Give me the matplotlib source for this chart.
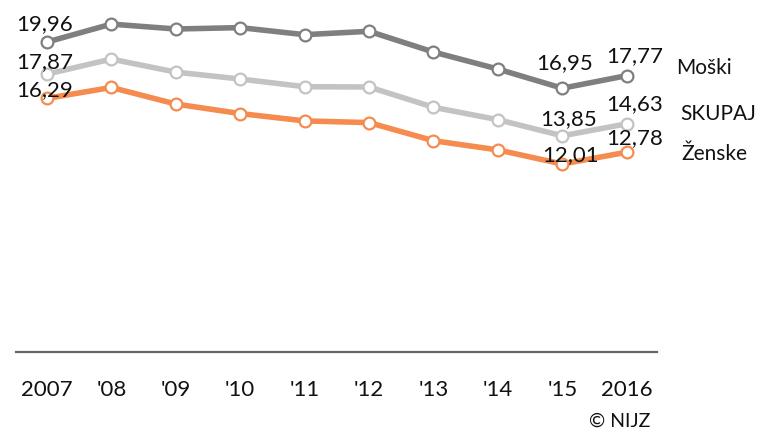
import matplotlib.pyplot as plt

plt.rcParams['font.family'] = ['Lato', 'DejaVu Sans']

# Podatki
leta = ['2007', "'08", "'09", "'10", "'11", "'12", "'13", "'14", "'15", '2016']
moski = [19.96, 21.13, 20.81, 20.90, 20.44, 20.66, 19.31, 18.20, 16.95, 17.77]
skupaj = [17.87, 18.85, 18.00, 17.55, 17.05, 17.03, 15.71, 14.90, 13.85, 14.63]
zenske = [16.29, 17.00, 15.92, 15.30, 14.82, 14.71, 13.53, 12.93, 12.01, 12.78]

serije = [
    ('Moški', moski, '#7f7f7f'),
    ('SKUPAJ', skupaj, '#c3c3c3'),
    ('Ženske', zenske, '#f58b4f'),
]

# odmiki oznak v pikslih (dx, dy) za indeks 0, 8, 9
odmiki = {
    'Moški': {0: (-2, 12), 8: (2, 19), 9: (8, 14)},
    'SKUPAJ': {0: (-2, 6), 8: (6, 11), 9: (8, 14)},
    'Ženske': {0: (-2, 2), 8: (8, 3), 9: (8, 8)},
}
odmiki_imen = {'Moški': (49, 2), 'SKUPAJ': (54, 4), 'Ženske': (55, -8)}

fig = plt.figure(figsize=(7.67, 4.33), dpi=100)
ax = fig.add_axes([16 / 767, 81 / 433, 641 / 767, 352 / 433])

x = list(range(len(leta)))
for ime, vrednosti, barva in serije:
    ax.plot(x, vrednosti, color=barva, lw=4, marker='o', ms=8.5,
            mfc='white', mec=barva, mew=1.6, zorder=3, clip_on=False)
    for i, (dx, dy) in odmiki[ime].items():
        ax.annotate(f'{vrednosti[i]:.2f}'.replace('.', ','), (x[i], vrednosti[i]),
                    xytext=(dx, dy), textcoords='offset pixels',
                    ha='center', va='baseline', fontsize=16, color='#111111', zorder=4)
    dx, dy = odmiki_imen[ime]
    ax.annotate(ime, (x[-1], vrednosti[-1]), xytext=(dx, dy), textcoords='offset pixels',
                ha='left', va='baseline', fontsize=15, color='#111111', annotation_clip=False)

ax.set_xlim(-0.48, 9.47)
ax.set_ylim(-0.24, 22.7)
ax.set_xticks(x)
ax.set_xticklabels(leta, fontsize=16, color='#111111')
ax.set_yticks([])
for s in ['top', 'right', 'left']:
    ax.spines[s].set_visible(False)
ax.spines['bottom'].set_color('#666666')
ax.spines['bottom'].set_linewidth(1.6)
ax.tick_params(axis='x', length=0, pad=20)

fig.text(650 / 767, 1 - 421 / 433, '© NIJZ', ha='right', va='center', fontsize=14, color='#111111')

plt.savefig('out.png', dpi=100)
